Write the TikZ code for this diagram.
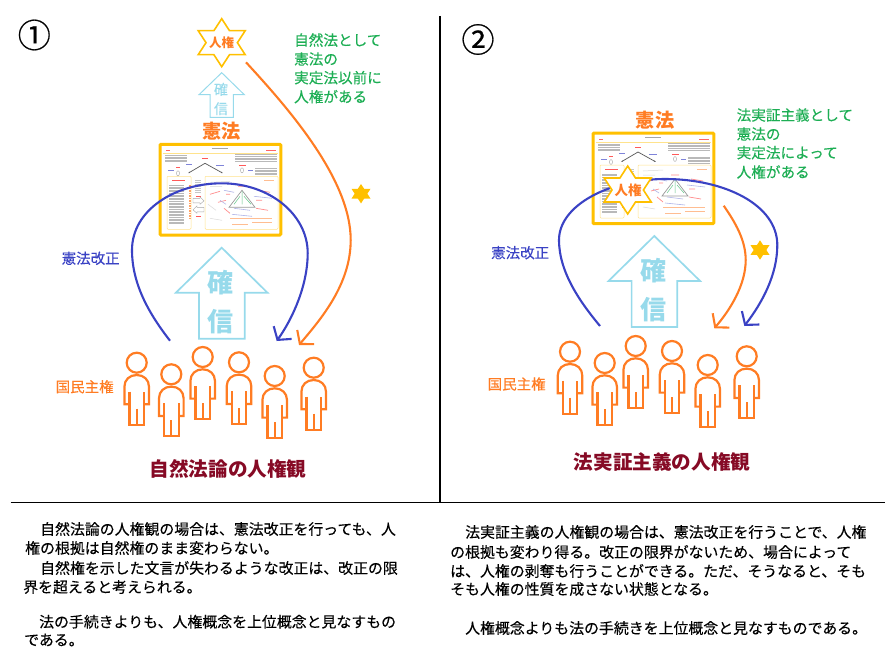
\documentclass[tikz,border=0pt]{standalone}
\usepackage{fontspec}
\setmainfont{Noto Sans CJK JP}
\newfontfamily\bodyfont[FakeBold=0.2]{Noto Sans CJK JP}
\newfontfamily\numfont[FakeBold=0.6]{Noto Sans CJK JP}
\usetikzlibrary{arrows.meta}

\definecolor{kenpoorange}{HTML}{FF7C23}
\definecolor{kaiseiblue}{HTML}{3A42C4}
\definecolor{starGold}{HTML}{FFC000}
\definecolor{kakushinblue}{HTML}{97DAEB}
\definecolor{noteGreen}{HTML}{1DAE54}
\definecolor{titleRed}{HTML}{860A25}

\newcommand{\jpsize}[1]{\fontsize{#1}{#1}\selectfont}

\tikzset{
  txt/.style={inner sep=0pt,anchor=center},
  txtw/.style={inner sep=0pt,anchor=west},
  bodyline/.style={txtw,black,font=\bodyfont\jpsize{14.9}},
  noteline/.style={txtw,noteGreen,font=\bodyfont\jpsize{14.6}},
  kaiseilabel/.style={txtw,kaiseiblue,font=\bodyfont\jpsize{14.5}},
  shukenlabel/.style={txtw,kenpoorange,font=\bodyfont\jpsize{14.5}},
  kenpolabel/.style={txt,kenpoorange,font=\bfseries\jpsize{19.2}},
  kenlabel/.style={txt,kenpoorange,font=\bfseries\jpsize{12.5}},
  viewtitle/.style={txt,titleRed,font=\bfseries\jpsize{19.6}},
  numlabel/.style={txt,black,font=\numfont\jpsize{33}},
  kakusmall/.style={txt,kakushinblue,font=\bodyfont\jpsize{14}},
  kakubig/.style={txt,kakushinblue,font=\bfseries\jpsize{26}},
  kaiseicurve/.style={draw=kaiseiblue,line width=2.1pt,-{Straight Barb[length=9pt,width=22pt]}},
  kencurve/.style={draw=kenpoorange,line width=2.1pt,-{Straight Barb[length=9pt,width=22pt]}},
  starline/.style={draw=starGold,fill=white,line width=1.6pt,line join=miter},
  person/.pic={
    \draw[kenpoorange,line width=2.2pt] (0,0) circle (10);
    \draw[kenpoorange,line width=2.2pt] (-7.3,41.6) -- (-12.3,41.6) -- (-12.3,24) .. controls (-12.3,17) and (-7,12.3) .. (0,12.3)
      .. controls (7,12.3) and (12.3,17) .. (12.3,24) -- (12.3,41.6) -- (7.3,41.6);
    \draw[kenpoorange,line width=2.2pt] (-7.3,29) -- (-7.3,62) -- (7.3,62) -- (7.3,29);
    \draw[kenpoorange,line width=2.2pt] (0,46) -- (0,62);
  },
  hexstar/.pic={
    \path[pic actions] (0,-24) -- (7.8,-12) -- (23.5,-12) -- (15.7,0) -- (23.5,12) -- (7.8,12) -- (0,24)
      -- (-7.8,12) -- (-23.5,12) -- (-15.7,0) -- (-23.5,-12) -- (-7.8,-12) -- cycle;
  },
  bigblock/.pic={
    \draw[kakushinblue,line width=1.7pt,line join=miter] (0,0) -- (45.8,45) -- (23,45) -- (23,91) -- (-22.7,91) -- (-22.7,45) -- (-45.8,45) -- cycle;
  },
  slidethumb/.pic={
    \draw[starGold,line width=3pt,rounded corners=1pt,fill=white] (0,0) rectangle (120.8,90.7);
    \draw[starGold!45,line width=.5pt] (2.5,9) -- (118,9);
    \draw[starGold!45,line width=.5pt,rounded corners=1pt] (7,32) rectangle (31,85);
    \draw[starGold!45,line width=.5pt,rounded corners=1pt] (45,32) rectangle (118,85);
    \draw[gray!70,line width=.8pt] (52,4) -- (68,4);
    \draw[red!60,line width=.7pt] (6,6) -- (10,6) (106,6) -- (116,6);
    \foreach \yy in {11,12.6,...,19} {
      \draw[gray!55,line width=.45pt] (5,\yy) -- (27,\yy);
      \draw[gray!55,line width=.45pt] (75,\yy-.6) -- (117,\yy-.6);
    }
    \foreach \yy in {24,25.5,...,31} \draw[gray!55,line width=.45pt] (95,\yy) -- (117,\yy);
    \foreach \yy in {41,42.6,...,80} \draw[gray!55,line width=.45pt] (9,\yy) -- (24,\yy);
    \foreach \yy in {36,38,...,48} \draw[gray!45,line width=.45pt] (35,\yy) -- (41,\yy);
    \draw[kenpoorange!70,line width=1.3pt,dash pattern=on 1.5pt off 1pt] (30,41) -- (30,76);
    \draw[gray!70!black,line width=.7pt,-{Latex[length=2pt]}] (45,19) -- (28,29);
    \draw[gray!70!black,line width=.7pt,-{Latex[length=2pt]}] (45,19) -- (63,29);
    \draw[red!65,line width=.8pt] (42,14) -- (48,14) (12,36) -- (25,36) (16,23) -- (20,23) (79,21) -- (86,21) (36,52) -- (41,52) (36,72) -- (41,72);
    \draw[kaiseiblue!65,line width=.6pt] (8,26) -- (14,26) (26,20) -- (32,20) (56,21) -- (64,21) (88,26) -- (93,26);
    \draw[gray!70,line width=.4pt] (18,29) ellipse (1.5 and 2.5) (82,26) ellipse (1.5 and 2.5);
    \draw[gray!70,line width=.4pt] (33,54) -- (40,54) -- (40,52.5) -- (44,56.5) -- (40,60) -- (40,58.5) -- (33,58.5) -- cycle;
    \draw[gray!70,line width=.4pt] (44,63) -- (37,63) -- (37,61.5) -- (33,65.5) -- (37,69) -- (37,67.5) -- (44,67.5) -- cycle;
    \draw[gray!80,line width=.7pt] (69,63) -- (82,46) -- (95,63) -- cycle;
    \draw[noteGreen!70,line width=.5pt] (82,47) -- (82,60) (74,60) -- (80,52) (84,52) -- (91,60);
    \draw[red!45,line width=.7pt] (50,50) -- (60,47) (58,58) -- (66,56) (98,46) -- (110,48) (64,64) -- (70,69) (96,64) -- (108,66) (78,42) -- (86,42) (66,50) -- (70,50) (96,56) -- (102,56);
    \draw[kaiseiblue!40,line width=.6pt] (64,46) -- (74,48) (94,52) -- (112,54) (72,70) -- (92,72) (60,56) -- (66,60) (74,64) -- (90,66);
    \draw[kenpoorange!50,line width=.7pt] (70,74) -- (112,74) (72,80) -- (88,80) (92,78) -- (112,78) (104,36) -- (114,36);
    \draw[gray!30,line width=.5pt] (50,38) -- (70,37) (50,42) -- (62,42) (48,60) -- (56,66) (50,74) -- (62,76);
  },
}

\begin{document}
\begin{tikzpicture}[x=1pt,y=-1pt]
\useasboundingbox (0,0) rectangle (890,658);

\node[numlabel] (numone) at (34.3,35) {①};
\node[numlabel] (numtwo) at (478,39.5) {②};

\draw[line width=1.5pt] (440,16) -- (440,502.5);
\draw[line width=1.5pt] (10.7,502.7) -- (885,502.7);

% left side
\pic[starline] at (221.7,42.7) {hexstar};
\node[kenlabel] (kenL) at (221.7,43) {人権};
\draw[kakushinblue,line width=1pt] (221.7,72.7) -- (244.3,94.7) -- (233.3,94.7) -- (233.3,117.3) -- (210,117.3) -- (210,94.7) -- (199,94.7) -- cycle;
\node[kakusmall] (kakuLa) at (221,89.3) {確};
\node[kakusmall] (kakuLb) at (221,108.7) {信};
\node[kenpolabel] (kenpoL) at (221.7,131.7) {憲法};
\pic at (160,144.3) {slidethumb};
\pic at (221.7,247.7) {bigblock};
\node[kakubig] (kakuLc) at (220.7,282.3) {確};
\node[kakubig] (kakuLd) at (220.7,321.7) {信};
\foreach \px/\py [count=\i] in {136.7/362.7,171.3/374.3,202.7/357,239/362.3,274.7/376,313.7/367.7}
  \pic (pL\i) at (\px,\py) {person};

\coordinate (kaiLs) at (170,340.7);
\coordinate (kaiLe) at (276.7,341);
\coordinate (kenLs) at (246,62.3);
\coordinate (kenLe) at (299,345);
\draw[kaiseicurve] (kaiLs) .. controls (150,315) and (132,285) .. (132,250) .. controls (132,210) and (175,183.3) .. (221.7,183.3)
  .. controls (270,183.3) and (307.7,215) .. (307.7,253) .. controls (307.7,285) and (293,318) .. (kaiLe);
\draw[kencurve] (kenLs) .. controls (290,110) and (350.7,180) .. (350.7,240) .. controls (350.7,285) and (320,320) .. (kenLe);
\pic[fill=starGold,scale=.404] at (361,193.7) {hexstar};

\node[noteline] (noteLa) at (294,40) {自然法として};
\node[noteline] (noteLb) at (294,59) {憲法の};
\node[noteline] (noteLc) at (294,77.7) {実定法以前に};
\node[noteline] (noteLd) at (294,96.7) {人権がある};
\node[kaiseilabel] (kaiL) at (61.5,258.3) {憲法改正};
\node[shukenlabel] (shukenL) at (55.5,386.7) {国民主権};
\node[viewtitle] (titleL) at (228,469.3) {自然法論の人権観};

% right side
\node[kenpolabel] (kenpoR) at (655,120) {憲法};
\pic at (593,133) {slidethumb};
\pic at (654.3,236) {bigblock};
\node[kakubig] (kakuRa) at (653.3,270.7) {確};
\node[kakubig] (kakuRb) at (653.3,309.3) {信};
\foreach \px/\py [count=\i] in {570/351.7,604.7/363,635.7/346,672/351,707.7/365,746.7/356.3}
  \pic (pR\i) at (\px,\py) {person};

\coordinate (kaiRs) at (600,326);
\coordinate (kaiRe) at (744.3,326);
\coordinate (kenRs) at (723.7,205.7);
\coordinate (kenRe) at (714.3,328.3);
\draw[kaiseicurve] (kaiRs) .. controls (580,302) and (559,272) .. (559,240) .. controls (559,205) and (610,179) .. (665,179)
  .. controls (725,179) and (777.3,205) .. (777.3,245) .. controls (777.3,275) and (762,303) .. (kaiRe);
\draw[kencurve] (kenRs) .. controls (735,222) and (745.7,240) .. (745.7,260) .. controls (745.7,285) and (730,310) .. (kenRe);
\pic[starline] at (627.7,190) {hexstar};
\node[kenlabel,font=\bfseries\jpsize{13.5}] (kenR) at (628,190) {人権};
\pic[fill=starGold,scale=.404] at (760,250) {hexstar};

\node[noteline] (noteRa) at (736.5,115) {法実証主義として};
\node[noteline] (noteRb) at (736.5,134) {憲法の};
\node[noteline] (noteRc) at (736.5,152.7) {実定法によって};
\node[noteline] (noteRd) at (736.5,172) {人権がある};
\node[kaiseilabel] (kaiR) at (491,252.7) {憲法改正};
\node[shukenlabel] (shukenR) at (487.5,384) {国民主権};
\node[viewtitle] (titleR) at (662,461.7) {法実証主義の人権観};

% notes
\node[bodyline] (bodyLa) at (40,529) {自然法論の人権観の場合は、憲法改正を行っても、人};
\node[bodyline] (bodyLb) at (25,548) {権の根拠は自然権のまま変わらない。};
\node[bodyline] (bodyLc) at (40,568) {自然権を示した文言が失わるような改正は、改正の限};
\node[bodyline] (bodyLd) at (23,587) {界を超えると考えられる。};
\node[bodyline] (bodyLe) at (39,621.7) {法の手続きよりも、人権概念を上位概念と見なすもの};
\node[bodyline] (bodyLf) at (24,640) {である。};

\node[bodyline] (bodyRa) at (465,532) {法実証主義の人権観の場合は、憲法改正を行うことで、人権};
\node[bodyline] (bodyRb) at (450,552) {の根拠も変わり得る。改正の限界がないため、場合によって};
\node[bodyline] (bodyRc) at (450,571) {は、人権の剥奪も行うことができる。ただ、そうなると、そも};
\node[bodyline] (bodyRd) at (450,589) {そも人権の性質を成さない状態となる。};
\node[bodyline] (bodyRe) at (465,628) {人権概念よりも法の手続きを上位概念と見なすものである。};
\end{tikzpicture}
\end{document}
